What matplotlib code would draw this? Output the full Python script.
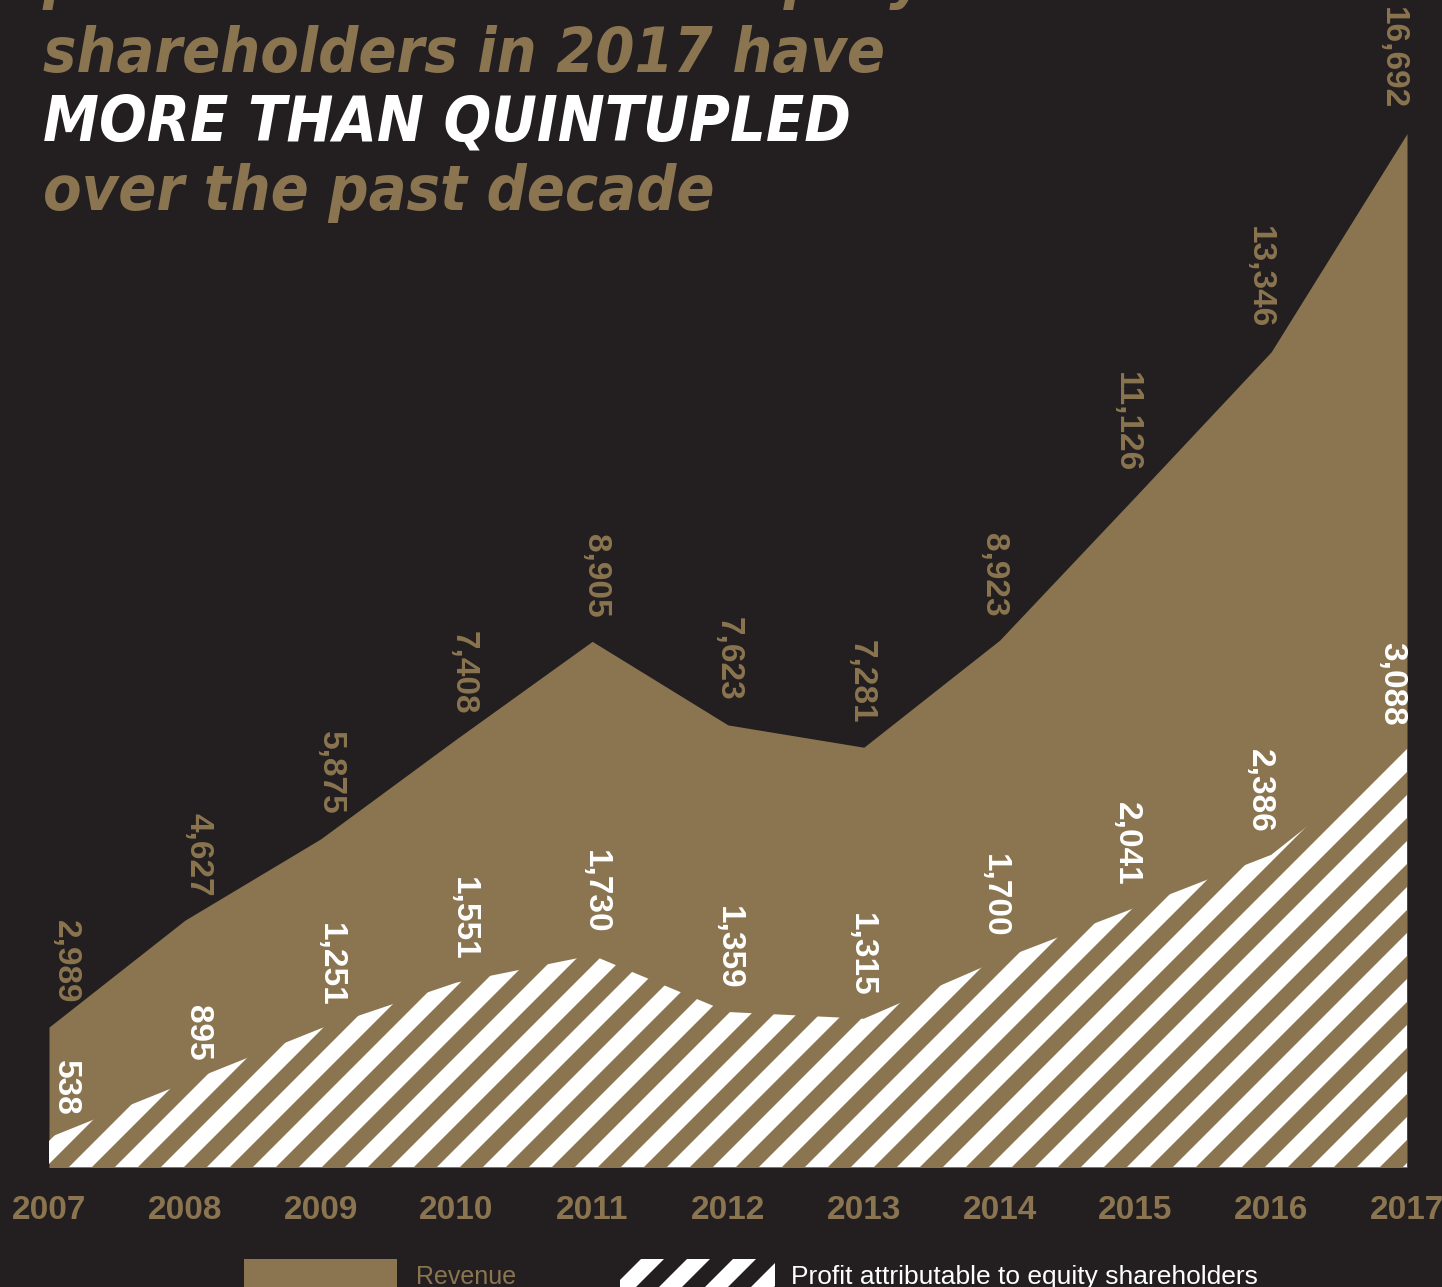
import numpy as np
import matplotlib
matplotlib.use("Agg")
import matplotlib.pyplot as plt
from matplotlib.patches import Rectangle
from matplotlib.collections import PolyCollection
from matplotlib.transforms import IdentityTransform

# data
years = [2007, 2008, 2009, 2010, 2011, 2012, 2013, 2014, 2015, 2016, 2017]
revenue = [2989, 4627, 5875, 7408, 8905, 7623, 7281, 8923, 11126, 13346, 16692]
profit = [538, 895, 1251, 1551, 1730, 1359, 1315, 1700, 2041, 2386, 3088]
title_lines = ["profit attributable to equity", "shareholders in 2017 have",
               "MORE THAN QUINTUPLED", "over the past decade"]
legend_labels = ["Revenue", "Profit attributable to equity shareholders"]

BG = "#231f20"
TAN = "#8a7550"
W, H = 1442, 1287

fig = plt.figure(figsize=(W / 100, H / 100), dpi=100, facecolor=BG)
ax = fig.add_axes([49 / W, (H - 1167) / H, 1358 / W, 1167 / H])
ax.set_facecolor(BG)
ax2 = ax.twinx()

ax.set_xlim(years[0], years[-1])
ax.set_ylim(843, 18742)
ax2.set_ylim(346, 7973)

ax.fill_between(years, revenue, 0, color=TAN, lw=0)
prof = ax2.fill_between(years, profit, ax2.get_ylim()[0], facecolor="none", lw=0)


def stripes(x_start, x_end, y0, clip, clip_tr):
    # white diagonal stripes in pixel space, period 46 px
    polys = []
    for x0 in np.arange(x_start, x_end, 46):
        polys.append([(x0, y0), (x0 + 23, y0), (x0 + 23 + 1400, y0 + 1400), (x0 + 1400, y0 + 1400)])
    pc = PolyCollection(polys, facecolor="white", edgecolor="none", transform=IdentityTransform())
    pc.set_clip_path(clip, clip_tr)
    return pc


pc = stripes(23 - 46 * 30, 1500, H - 1167, prof.get_paths()[0], ax2.transData)
ax2.add_collection(pc, autolim=False)

# value labels
lab_font = dict(family="Liberation Sans", weight="bold", fontsize=24)
for i, (yr, r, p) in enumerate(zip(years, revenue, profit)):
    dx = 16 - 3.1 * i
    ax.annotate(f"{r:,}", xy=(yr, r), xytext=(dx, 24), textcoords="offset pixels",
                rotation=270, ha="center", va="bottom", color=TAN, **lab_font)
    ax2.annotate(f"{p:,}", xy=(yr, p), xytext=(dx, 22), textcoords="offset pixels",
                 rotation=270, ha="center", va="bottom", color="white", **lab_font)

ax.set_xticks(years, [str(y) for y in years])
ax.tick_params(axis="x", length=0, pad=20, labelcolor=TAN, labelsize=24)
for t in ax.get_xticklabels():
    t.set_fontfamily("Liberation Sans")
    t.set_fontweight("bold")
ax.set_yticks([])
ax2.set_yticks([])
for a in (ax, ax2):
    for s in a.spines.values():
        s.set_visible(False)

# title
title_font = dict(family="DejaVu Sans", stretch="condensed", weight="bold",
                  style="italic", fontsize=45)
title_colors = [TAN, TAN, "white", TAN]
baselines = [-3, 72, 140, 210]
for txt, c, b in zip(title_lines, title_colors, baselines):
    fig.text(43 / W, (H - b) / H, txt, color=c, va="baseline", ha="left", **title_font)

# legend
fig.add_artist(Rectangle((244, -13), 153, 41, transform=IdentityTransform(),
                         facecolor=TAN, edgecolor="none"))
fig.text(416 / W, (H - 1284) / H, legend_labels[0], color=TAN, fontsize=18,
         family="Liberation Sans", va="baseline")
leg_box = Rectangle((620, -13), 155, 41, transform=IdentityTransform(),
                    facecolor="none", edgecolor="none")
fig.add_artist(leg_box)
fig.add_artist(stripes(600 - 46 * 3, 800, -13, leg_box.get_path(), leg_box.get_transform()))
fig.text(791 / W, (H - 1284) / H, legend_labels[1], color="white", fontsize=19,
         family="Liberation Sans", va="baseline")

fig.savefig("out.png", dpi=100, facecolor=BG)
